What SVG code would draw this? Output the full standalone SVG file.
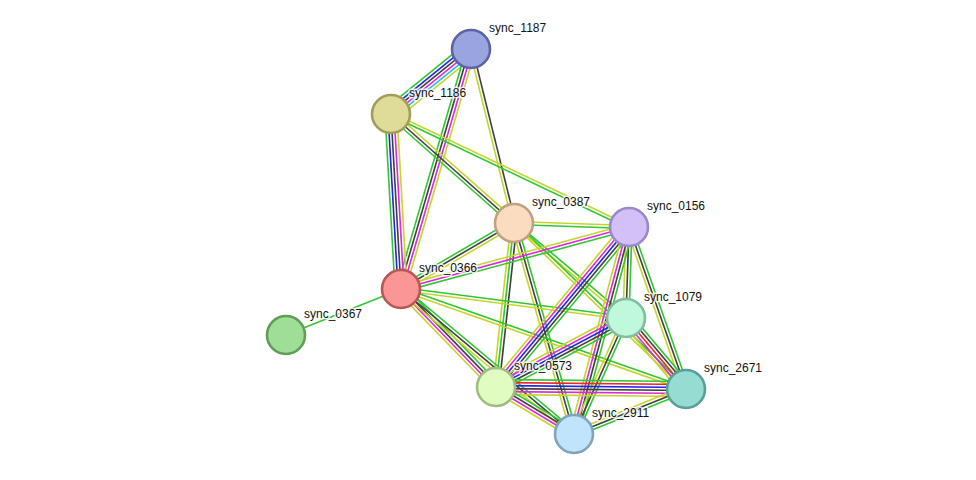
<svg xmlns="http://www.w3.org/2000/svg" width="976" height="480" viewBox="0 0 976 480">
<style>
line{stroke-width:1.3;fill:none}
.g{stroke:#33c633}.y{stroke:#c4d62c}.k{stroke:#404040}.m{stroke:#e028e0}.b{stroke:#2424f0}.c{stroke:#28c0e0}.r{stroke:#f02828}
.n{stroke-width:2.6}
text{font-family:"Liberation Sans",Arial,sans-serif;font-size:12px;fill:#111;stroke:#fff;stroke-width:3;stroke-opacity:0.8;paint-order:stroke;stroke-linejoin:round}
</style>
<rect width="976" height="480" fill="#fff"/>
<g id="edges">
<g transform="translate(391,114) rotate(-39.09) scale(1,1.25)"><line class="g" x1="0" x2="103" y1="-6" y2="-6"/><line class="b" x1="0" x2="103" y1="-3.6" y2="-3.6"/><line class="k" x1="0" x2="103" y1="-1.2" y2="-1.2"/><line class="m" x1="0" x2="103" y1="1.2" y2="1.2"/><line class="c" x1="0" x2="103" y1="3.6" y2="3.6"/><line class="y" x1="0" x2="103" y1="6" y2="6"/></g>
<g transform="translate(401,289) rotate(-73.74) scale(1,1.25)"><line class="g" x1="0" x2="250" y1="-3.6" y2="-3.6"/><line class="k" x1="0" x2="250" y1="-1.2" y2="-1.2"/><line class="m" x1="0" x2="250" y1="1.2" y2="1.2"/><line class="y" x1="0" x2="250" y1="3.6" y2="3.6"/></g>
<g transform="translate(471,49) rotate(76.12) scale(1,1.25)"><line class="k" x1="0" x2="179" y1="-1.2" y2="-1.2"/><line class="y" x1="0" x2="179" y1="1.2" y2="1.2"/></g>
<g transform="translate(391,114) rotate(86.73) scale(1,1.25)"><line class="y" x1="0" x2="175" y1="-4.8" y2="-4.8"/><line class="m" x1="0" x2="175" y1="-2.4" y2="-2.4"/><line class="k" x1="0" x2="175" y1="0" y2="0"/><line class="b" x1="0" x2="175" y1="2.4" y2="2.4"/><line class="g" x1="0" x2="175" y1="4.8" y2="4.8"/></g>
<g transform="translate(391,114) rotate(41.55) scale(1,1.25)"><line class="y" x1="0" x2="164" y1="-2.4" y2="-2.4"/><line class="k" x1="0" x2="164" y1="0" y2="0"/><line class="g" x1="0" x2="164" y1="2.4" y2="2.4"/></g>
<g transform="translate(391,114) rotate(25.40) scale(1,1.25)"><line class="y" x1="0" x2="263" y1="-1.2" y2="-1.2"/><line class="g" x1="0" x2="263" y1="1.2" y2="1.2"/></g>
<g transform="translate(401,289) rotate(-30.29) scale(1,1.25)"><line class="g" x1="0" x2="131" y1="-2.4" y2="-2.4"/><line class="k" x1="0" x2="131" y1="0" y2="0"/><line class="y" x1="0" x2="131" y1="2.4" y2="2.4"/></g>
<g transform="translate(514,223) rotate(1.99) scale(1,1.25)"><line class="y" x1="0" x2="115" y1="-1.2" y2="-1.2"/><line class="g" x1="0" x2="115" y1="1.2" y2="1.2"/></g>
<g transform="translate(514,223) rotate(96.26) scale(1,1.25)"><line class="k" x1="0" x2="165" y1="-2.4" y2="-2.4"/><line class="g" x1="0" x2="165" y1="0" y2="0"/><line class="y" x1="0" x2="165" y1="2.4" y2="2.4"/></g>
<g transform="translate(514,223) rotate(74.13) scale(1,1.25)"><line class="g" x1="0" x2="219" y1="-2.4" y2="-2.4"/><line class="k" x1="0" x2="219" y1="0" y2="0"/><line class="y" x1="0" x2="219" y1="2.4" y2="2.4"/></g>
<g transform="translate(514,223) rotate(40.30) scale(1,1.25)"><line class="g" x1="0" x2="147" y1="-1.2" y2="-1.2"/><line class="y" x1="0" x2="147" y1="1.2" y2="1.2"/></g>
<g transform="translate(514,223) rotate(43.98) scale(1,1.25)"><line class="g" x1="0" x2="239" y1="-1.2" y2="-1.2"/><line class="y" x1="0" x2="239" y1="1.2" y2="1.2"/></g>
<g transform="translate(401,289) rotate(-15.21) scale(1,1.25)"><line class="y" x1="0" x2="236" y1="-2.4" y2="-2.4"/><line class="m" x1="0" x2="236" y1="0" y2="0"/><line class="g" x1="0" x2="236" y1="2.4" y2="2.4"/></g>
<g transform="translate(401,289) rotate(7.34) scale(1,1.25)"><line class="g" x1="0" x2="227" y1="-1.2" y2="-1.2"/><line class="y" x1="0" x2="227" y1="1.2" y2="1.2"/></g>
<g transform="translate(401,289) rotate(19.33) scale(1,1.25)"><line class="g" x1="0" x2="302" y1="-1.2" y2="-1.2"/><line class="y" x1="0" x2="302" y1="1.2" y2="1.2"/></g>
<g transform="translate(401,289) rotate(45.89) scale(1,1.25)"><line class="g" x1="0" x2="136" y1="-3.6" y2="-3.6"/><line class="k" x1="0" x2="136" y1="-1.2" y2="-1.2"/><line class="m" x1="0" x2="136" y1="1.2" y2="1.2"/><line class="y" x1="0" x2="136" y1="3.6" y2="3.6"/></g>
<g transform="translate(401,289) rotate(39.97) scale(1,1.25)"><line class="g" x1="0" x2="226" y1="-2.4" y2="-2.4"/><line class="k" x1="0" x2="226" y1="0" y2="0"/><line class="y" x1="0" x2="226" y1="2.4" y2="2.4"/></g>
<g transform="translate(286,335) rotate(-21.80) scale(1,1.25)"><line class="g" x1="0" x2="124" y1="0" y2="0"/></g>
<g transform="translate(629,227) rotate(91.89) scale(1,1.25)"><line class="g" x1="0" x2="91" y1="-2.4" y2="-2.4"/><line class="k" x1="0" x2="91" y1="0" y2="0"/><line class="y" x1="0" x2="91" y1="2.4" y2="2.4"/></g>
<g transform="translate(629,227) rotate(129.74) scale(1,1.25)"><line class="g" x1="0" x2="208" y1="-4.8" y2="-4.8"/><line class="k" x1="0" x2="208" y1="-2.4" y2="-2.4"/><line class="b" x1="0" x2="208" y1="0" y2="0"/><line class="m" x1="0" x2="208" y1="2.4" y2="2.4"/><line class="y" x1="0" x2="208" y1="4.8" y2="4.8"/></g>
<g transform="translate(629,227) rotate(104.88) scale(1,1.25)"><line class="g" x1="0" x2="214" y1="-3.6" y2="-3.6"/><line class="k" x1="0" x2="214" y1="-1.2" y2="-1.2"/><line class="m" x1="0" x2="214" y1="1.2" y2="1.2"/><line class="y" x1="0" x2="214" y1="3.6" y2="3.6"/></g>
<g transform="translate(629,227) rotate(70.62) scale(1,1.25)"><line class="g" x1="0" x2="172" y1="-2.4" y2="-2.4"/><line class="k" x1="0" x2="172" y1="0" y2="0"/><line class="y" x1="0" x2="172" y1="2.4" y2="2.4"/></g>
<g transform="translate(626,318) rotate(152.04) scale(1,1.25)"><line class="g" x1="0" x2="147" y1="-4.8" y2="-4.8"/><line class="k" x1="0" x2="147" y1="-2.4" y2="-2.4"/><line class="b" x1="0" x2="147" y1="0" y2="0"/><line class="m" x1="0" x2="147" y1="2.4" y2="2.4"/><line class="y" x1="0" x2="147" y1="4.8" y2="4.8"/></g>
<g transform="translate(626,318) rotate(114.15) scale(1,1.25)"><line class="g" x1="0" x2="127" y1="-2.4" y2="-2.4"/><line class="k" x1="0" x2="127" y1="0" y2="0"/><line class="y" x1="0" x2="127" y1="2.4" y2="2.4"/></g>
<g transform="translate(626,318) rotate(49.80) scale(1,1.25)"><line class="g" x1="0" x2="93" y1="-4.8" y2="-4.8"/><line class="k" x1="0" x2="93" y1="-2.4" y2="-2.4"/><line class="r" x1="0" x2="93" y1="0" y2="0"/><line class="m" x1="0" x2="93" y1="2.4" y2="2.4"/><line class="y" x1="0" x2="93" y1="4.8" y2="4.8"/></g>
<g transform="translate(496,387) rotate(0.60) scale(1,1.25)"><line class="g" x1="0" x2="190" y1="-6" y2="-6"/><line class="r" x1="0" x2="190" y1="-3.6" y2="-3.6"/><line class="b" x1="0" x2="190" y1="-1.2" y2="-1.2"/><line class="k" x1="0" x2="190" y1="1.2" y2="1.2"/><line class="m" x1="0" x2="190" y1="3.6" y2="3.6"/><line class="y" x1="0" x2="190" y1="6" y2="6"/></g>
<g transform="translate(496,387) rotate(31.07) scale(1,1.25)"><line class="g" x1="0" x2="91" y1="-3.6" y2="-3.6"/><line class="k" x1="0" x2="91" y1="-1.2" y2="-1.2"/><line class="m" x1="0" x2="91" y1="1.2" y2="1.2"/><line class="y" x1="0" x2="91" y1="3.6" y2="3.6"/></g>
<g transform="translate(574,434) rotate(-21.89) scale(1,1.25)"><line class="y" x1="0" x2="121" y1="-2.4" y2="-2.4"/><line class="k" x1="0" x2="121" y1="0" y2="0"/><line class="g" x1="0" x2="121" y1="2.4" y2="2.4"/></g>
</g>
<g id="sync_1187"><circle class="n" cx="471" cy="49" r="19" fill="#9aa5df" stroke="#5a64a6"/><text x="489" y="32">sync_1187</text></g>
<g id="sync_1186"><circle class="n" cx="391" cy="114" r="19" fill="#dedc98" stroke="#a29e58"/><text x="409" y="97">sync_1186</text></g>
<g id="sync_0387"><circle class="n" cx="514" cy="223" r="19" fill="#fcdcc0" stroke="#c0a080"/><text x="532" y="206">sync_0387</text></g>
<g id="sync_0156"><circle class="n" cx="629" cy="227" r="19" fill="#d4c0f8" stroke="#9a88cc"/><text x="647" y="210">sync_0156</text></g>
<g id="sync_0366"><circle class="n" cx="401" cy="289" r="19" fill="#fa9696" stroke="#bb5656"/><text x="419" y="272">sync_0366</text></g>
<g id="sync_0367"><circle class="n" cx="286" cy="335" r="19" fill="#9ede96" stroke="#5e9e56"/><text x="304" y="318">sync_0367</text></g>
<g id="sync_1079"><circle class="n" cx="626" cy="318" r="19" fill="#c0f8dc" stroke="#80bca0"/><text x="644" y="301">sync_1079</text></g>
<g id="sync_0573"><circle class="n" cx="496" cy="387" r="19" fill="#e0fcc0" stroke="#a0bc80"/><text x="514" y="370">sync_0573</text></g>
<g id="sync_2671"><circle class="n" cx="686" cy="389" r="19" fill="#96dcd2" stroke="#5a9e98"/><text x="704" y="372">sync_2671</text></g>
<g id="sync_2911"><circle class="n" cx="574" cy="434" r="19" fill="#c0e4fc" stroke="#80a4bc"/><text x="592" y="417">sync_2911</text></g>
</svg>
